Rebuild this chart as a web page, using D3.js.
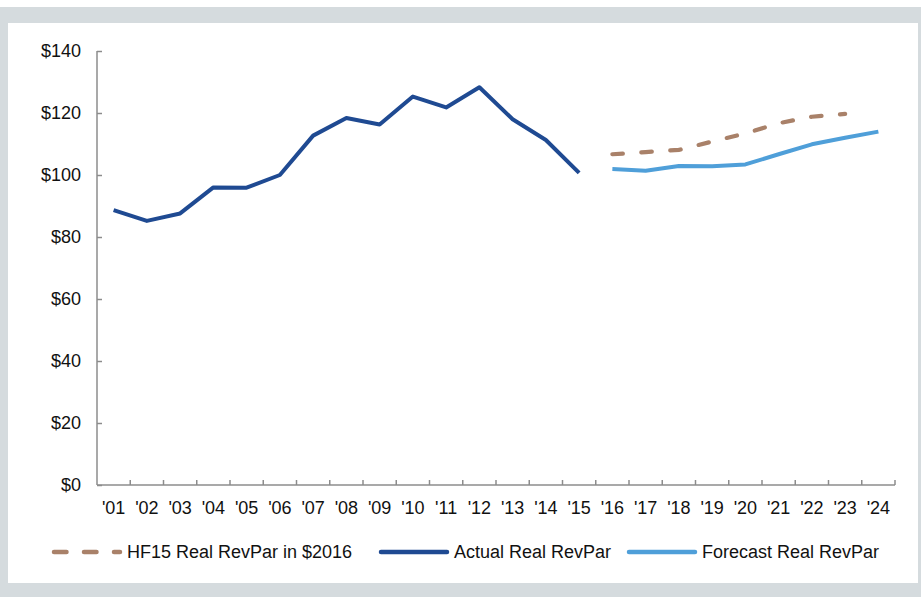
<!DOCTYPE html>
<html>
<head>
<meta charset="utf-8">
<script src="https://cdn.jsdelivr.net/npm/d3@7"></script>
<style>
  html, body { margin: 0; padding: 0; background: #fff; }
  svg { display: block; font-family: "Liberation Sans", Arial, sans-serif; }
</style>
</head>
<body>
<svg id="chart" width="921" height="597"></svg>
<script>
var years = ["'01","'02","'03","'04","'05","'06","'07","'08","'09","'10","'11","'12",
             "'13","'14","'15","'16","'17","'18","'19","'20","'21","'22","'23","'24"];
var actualYears = years.slice(0, 15);
var actual = [88.7, 85.2, 87.6, 96.0, 95.9, 100.0, 112.7, 118.4, 116.3, 125.3, 121.8, 128.3, 118.0, 111.3, 100.7];
var forecastYears = years.slice(15);
var forecast = [101.9, 101.4, 102.9, 102.8, 103.4, 106.7, 109.9, 112.0, 114.0];
var hf15Years = years.slice(15, 23);
var hf15 = [106.7, 107.4, 108.1, 110.8, 113.4, 116.7, 118.8, 119.7];
var yTicks = [0, 20, 40, 60, 80, 100, 120, 140];
var legendNames = ["HF15 Real RevPar in $2016", "Actual Real RevPar", "Forecast Real RevPar"];

var svg = d3.select("#chart");

// frame
svg.append("rect").attr("x", 0).attr("y", 7).attr("width", 921).attr("height", 590).attr("fill", "#d5dbde");
svg.append("rect").attr("x", 8).attr("y", 23).attr("width", 910).attr("height", 560).attr("fill", "#fff");

var plotLeft = 97, plotRight = 895, plotTop = 51, plotBottom = 485;

var x = d3.scaleBand().domain(years).range([plotLeft, plotRight]);
var y = d3.scaleLinear().domain([0, 140]).range([plotBottom, plotTop]);
var cx = function(d) { return x(d) + x.bandwidth() / 2; };

// y axis
var yAxis = svg.append("g")
    .attr("transform", "translate(" + plotLeft + ",0)")
    .call(d3.axisRight(y).tickValues(yTicks).tickSize(5).tickFormat(function(d) { return ""; }));
yAxis.select(".domain").attr("stroke", "#8c8c8c").attr("stroke-width", 1.5).attr("d", "M0," + plotTop + "V" + plotBottom);
yAxis.selectAll(".tick line").attr("stroke", "#8c8c8c").attr("stroke-width", 1.5);

svg.append("g").selectAll("text").data(yTicks).join("text")
    .attr("x", 81).attr("y", function(d) { return y(d); })
    .attr("dy", "0.35em").attr("text-anchor", "end")
    .attr("font-size", 18).attr("fill", "#111")
    .text(function(d) { return "$" + d; });

// x axis
var tickPos = years.slice(1).map(function(d) { return x(d); }).concat([plotRight]);
var xAxis = svg.append("g");
xAxis.append("path").attr("d", "M" + plotLeft + "," + plotBottom + "H" + plotRight)
    .attr("stroke", "#8c8c8c").attr("stroke-width", 1.5).attr("fill", "none");
xAxis.selectAll("line").data(tickPos).join("line")
    .attr("x1", function(d) { return d; }).attr("x2", function(d) { return d; })
    .attr("y1", plotBottom).attr("y2", plotBottom - 5)
    .attr("stroke", "#8c8c8c").attr("stroke-width", 1.5);
xAxis.selectAll("text").data(years).join("text")
    .attr("x", cx).attr("y", 508).attr("dy", "0.35em")
    .attr("text-anchor", "middle").attr("font-size", 18).attr("fill", "#111")
    .text(function(d) { return d; });

var line = d3.line().x(function(d) { return cx(d[0]); }).y(function(d) { return y(d[1]); });

svg.append("path").datum(d3.zip(hf15Years, hf15))
    .attr("d", line).attr("fill", "none").attr("stroke", "#a98169")
    .attr("stroke-width", 4.2).attr("stroke-linecap", "round")
    .attr("stroke-dasharray", "10.5,18.5");

svg.append("path").datum(d3.zip(actualYears, actual))
    .attr("d", line).attr("fill", "none").attr("stroke", "#1f4a92")
    .attr("stroke-width", 4).attr("stroke-linejoin", "round");

svg.append("path").datum(d3.zip(forecastYears, forecast))
    .attr("d", line).attr("fill", "none").attr("stroke", "#4f9fd9")
    .attr("stroke-width", 4).attr("stroke-linejoin", "round");

// legend
var legendX = [54, 381, 629];
var legendColor = ["#a98169", "#1f4a92", "#4f9fd9"];
var lg = svg.append("g").selectAll("g").data(legendNames).join("g")
    .attr("transform", function(d, i) { return "translate(" + legendX[i] + ",552)"; });
lg.append("line").attr("x1", 0).attr("x2", 66).attr("y1", 0).attr("y2", 0)
    .attr("stroke", function(d, i) { return legendColor[i]; })
    .attr("stroke-width", 4.5).attr("stroke-linecap", "round")
    .attr("stroke-dasharray", function(d, i) { return i === 0 ? "12.5,17.5" : null; });
lg.append("text").attr("x", 73).attr("dy", "0.35em").attr("font-size", 18).attr("fill", "#111")
    .text(function(d) { return d; });
</script>
</body>
</html>
